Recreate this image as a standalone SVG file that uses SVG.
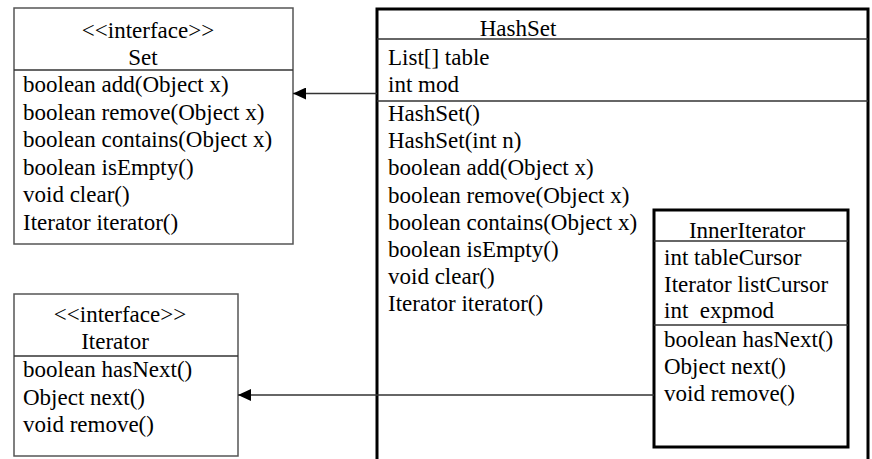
<svg xmlns="http://www.w3.org/2000/svg" width="872" height="459" viewBox="0 0 872 459">
<defs>
<style>
text{font-family:"Liberation Serif","Times New Roman",serif;font-size:23px;fill:#000;white-space:pre}
.c{text-anchor:middle}
.ibox{fill:#fff;stroke:#555;stroke-width:1.5}
.cbox{fill:#fff;stroke:#000;stroke-width:3}
.div{stroke:#333;stroke-width:1.5}
.conn{stroke:#333;stroke-width:1.3;fill:none}
</style>
<marker id="ah" viewBox="0 0 13 12" refX="13" refY="6" markerWidth="13" markerHeight="12" markerUnits="userSpaceOnUse" orient="auto">
<path d="M0,0 L13,6 L0,12 Z" fill="#000"/>
</marker>
</defs>
<g id="Set">
<rect class="ibox" x="14" y="8" width="279" height="236"/>
<line class="div" x1="14" y1="70" x2="293" y2="70"/>
<text class="c" x="148" y="38">&lt;&lt;interface&gt;&gt;</text>
<text class="c" x="143" y="65">Set</text>
<text x="23" y="92">boolean add(Object x)</text>
<text x="23" y="119.6">boolean remove(Object x)</text>
<text x="23" y="147.2">boolean contains(Object x)</text>
<text x="23" y="174.8">boolean isEmpty()</text>
<text x="23" y="202.4">void clear()</text>
<text x="23" y="230">Iterator iterator()</text>
</g>
<g id="Iterator">
<rect class="ibox" x="14" y="294" width="224" height="162"/>
<line class="div" x1="14" y1="356" x2="238" y2="356"/>
<text class="c" x="120" y="322">&lt;&lt;interface&gt;&gt;</text>
<text class="c" x="115" y="349">Iterator</text>
<text x="23" y="377">boolean hasNext()</text>
<text x="23" y="404.5">Object next()</text>
<text x="23" y="432">void remove()</text>
</g>
<g id="HashSet">
<path d="M377,462 L377,9 L868,9 L868,462" fill="#fff" stroke="#000" stroke-width="3"/>
<line class="div" x1="377" y1="39" x2="868" y2="39"/>
<line class="div" x1="377" y1="101" x2="868" y2="101"/>
<text class="c" x="518" y="36">HashSet</text>
<text x="388" y="65">List[] table</text>
<text x="388" y="92">int mod</text>
<text x="388" y="121">HashSet()</text>
<text x="388" y="148.2">HashSet(int n)</text>
<text x="388" y="175.3">boolean add(Object x)</text>
<text x="388" y="202.5">boolean remove(Object x)</text>
<text x="388" y="229.6">boolean contains(Object x)</text>
<text x="388" y="256.8">boolean isEmpty()</text>
<text x="388" y="283.9">void clear()</text>
<text x="388" y="311">Iterator iterator()</text>
</g>
<g id="InnerIterator">
<rect class="cbox" x="654" y="210" width="194" height="237" stroke-width="2.5"/>
<line class="div" x1="654" y1="241" x2="848" y2="241"/>
<line class="div" x1="654" y1="325" x2="848" y2="325"/>
<text class="c" x="747" y="238">InnerIterator</text>
<text x="664" y="265">int tableCursor</text>
<text x="664" y="292">Iterator listCursor</text>
<text x="664" y="318">int  expmod</text>
<text x="664" y="347">boolean hasNext()</text>
<text x="664" y="374">Object next()</text>
<text x="664" y="401">void remove()</text>
</g>
<g id="connectors">
<line class="conn" x1="377" y1="93.5" x2="293" y2="93.5" marker-end="url(#ah)"/>
<line class="conn" x1="654" y1="395" x2="238" y2="395" marker-end="url(#ah)"/>
</g>
</svg>
